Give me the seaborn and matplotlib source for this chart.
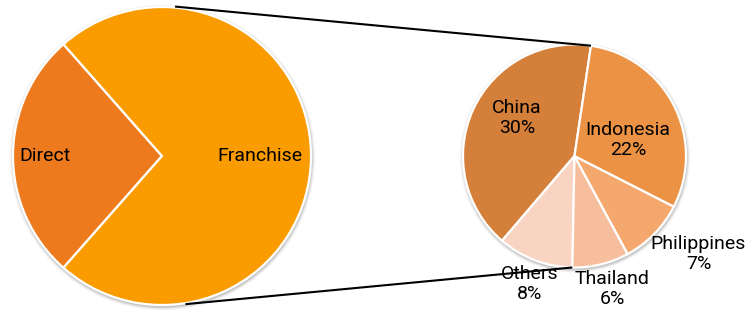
import numpy as np
import matplotlib
matplotlib.use("Agg")
import matplotlib.pyplot as plt
import seaborn as sns

# Store network split (% of total)
channel_labels = ["Direct", "Franchise"]
channel_share = [27, 73]
channel_colors = ["#EE7A1E", "#FA9B00"]

# Franchise stores by country (% of total)
country_labels = ["China", "Others", "Thailand", "Philippines", "Indonesia"]
country_share = [30, 8, 6, 7, 22]
country_colors = ["#D5803A", "#F9D4C2", "#F7BE9D", "#F5A86D", "#EC9244"]

sns.set_theme(style="white")
plt.rcParams["font.family"] = ["Roboto", "Liberation Sans", "DejaVu Sans"]

W, H = 746, 321
fig = plt.figure(figsize=(W / 100, H / 100), dpi=100)
ax = fig.add_axes([0, 0, 1, 1])

left_c, left_r = (162.0, 165.0), 149.0
right_c, right_r = (574.5, 165.0), 111.5


def soft_shadow(center, radius):
    # faint grey halo just outside the pie rim
    for k, a in zip(range(1, 5), [0.10, 0.07, 0.045, 0.025]):
        ax.add_patch(plt.Circle((center[0] + 0.5, center[1] - 1.5), radius + k,
                                color="black", alpha=a, lw=0, zorder=0))


soft_shadow(left_c, left_r)
soft_shadow(right_c, right_r)

wedge_style = dict(edgecolor="white", linewidth=1.6)
left_wedges, _ = ax.pie(channel_share, colors=channel_colors, startangle=131.4,
                        center=left_c, radius=left_r, wedgeprops=wedge_style,
                        counterclock=True)
right_wedges, _ = ax.pie(country_share, colors=country_colors, startangle=81.5,
                         center=right_c, radius=right_r, wedgeprops=wedge_style,
                         counterclock=True)
for w in left_wedges + right_wedges:
    w.set_zorder(2)


def rim_point(center, radius, deg):
    t = np.deg2rad(deg)
    return center[0] + radius * np.cos(t), center[1] + radius * np.sin(t)


# Lines linking the franchise slice to its breakdown
top_end = rim_point(right_c, right_r, right_wedges[0].theta1)
bot_end = rim_point(right_c, right_r, right_wedges[2].theta1)
top_start = rim_point(left_c, left_r + 1, 85)
bot_start = rim_point(left_c, left_r + 1, -81)
for (x0, y0), (x1, y1) in [(top_start, top_end), (bot_start, bot_end)]:
    ax.plot([x0, x1], [y0, y1], color="black", lw=1.5, zorder=3,
            solid_capstyle="butt")

fs = 14
# Channel labels
ax.text(left_c[0] - 117, left_c[1], channel_labels[0], ha="center", va="center",
        fontsize=fs, color="black", zorder=4)
ax.text(left_c[0] + 98, left_c[1], channel_labels[1], ha="center", va="center",
        fontsize=fs, color="black", zorder=4)

# Country labels
label_offsets = {
    "China": (-57.5, 38),
    "Others": (-44.5, -128),
    "Thailand": (37.5, -133),
    "Philippines": (124, -98),
    "Indonesia": (53.5, 16),
}
for name, share in zip(country_labels, country_share):
    dx, dy = label_offsets[name]
    ax.text(right_c[0] + dx, right_c[1] + dy, f"{name}\n{share}%",
            ha="center", va="center", fontsize=fs, color="black",
            linespacing=1.2, zorder=4)

ax.set_xlim(0, W)
ax.set_ylim(0, H)
ax.set_aspect("equal")
ax.axis("off")
fig.savefig("out.png", dpi=100, facecolor="white")
